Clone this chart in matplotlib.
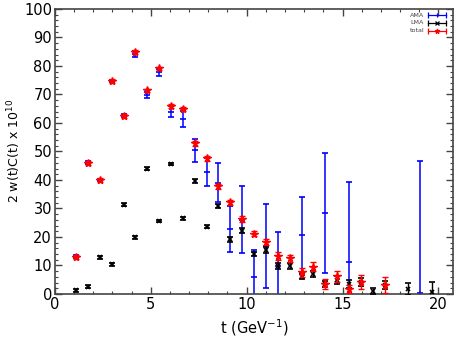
import numpy as np
import matplotlib
matplotlib.use("Agg")
import matplotlib.pyplot as plt
from matplotlib.ticker import MultipleLocator

nan = np.nan
t = [1.11, 1.73, 2.35, 2.97, 3.58, 4.20, 4.82, 5.44, 6.06, 6.68, 7.30, 7.91, 8.53,
     9.15, 9.77, 10.39, 11.01, 11.63, 12.24, 12.86, 13.48, 14.10, 14.72, 15.34,
     15.96, 16.57, 17.19, 17.81, 18.43, 19.05, 19.67]

ama = [13.0, 46.0, 40.0, 74.7, 62.5, 84.1, 69.8, 77.7, 64.0, 61.5, 50.4, 42.8, 39.1,
       22.8, 26.0, 6.0, 16.7, 9.8, nan, 20.8, nan, 28.3, nan, 11.3,
       nan, nan, nan, nan, nan, 0.2, nan]
ama_err = [0.5, 0.5, 0.5, 0.5, 0.5, 1.0, 1.1, 1.3, 2.0, 2.8, 4.0, 4.9, 7.0,
           8.0, 11.8, 9.4, 14.7, 11.8, nan, 13.2, nan, 21.0, nan, 28.1,
           nan, nan, nan, nan, nan, 46.6, nan]

lma = [1.3, 2.5, 12.9, 10.4, 31.3, 19.9, 44.0, 25.6, 45.6, 26.6, 39.6, 23.6, 31.0,
       19.2, 22.2, 14.0, 15.4, 9.8, 9.9, 6.1, 7.0, 3.5, 4.9, 3.5,
       4.2, 1.0, 3.2, nan, 1.8, nan, 0.8]
lma_err = [0.5, 0.5, 0.5, 0.5, 0.5, 0.5, 0.5, 0.5, 0.5, 0.5, 0.6, 0.6, 0.7,
           0.8, 0.8, 0.8, 0.9, 0.9, 1.0, 1.0, 1.0, 1.2, 1.5, 1.3,
           1.5, 1.0, 1.5, nan, 2.2, nan, 3.5]

total = [13.0, 46.0, 40.0, 74.7, 62.5, 84.9, 71.4, 79.1, 66.1, 64.9, 52.8, 47.6, 37.8,
         32.2, 26.3, 21.2, 18.3, 13.3, 12.5, 7.6, 9.6, 3.6, 6.2, 1.8,
         4.3, nan, 3.3, nan, nan, nan, nan]
total_err = [0.6, 0.6, 0.6, 0.6, 0.6, 0.6, 0.6, 0.6, 0.7, 0.7, 0.8, 0.8, 0.9,
             0.9, 1.0, 1.0, 1.1, 1.5, 1.2, 1.5, 1.5, 1.8, 2.0, 1.5,
             2.5, nan, 2.8, nan, nan, nan, nan]

labels = ['AMA', 'LMA', 'total']
colors = ['#0000ff', 'black', '#ff0000']
leg_markers = ['|', 'x', '*']

fig = plt.figure(figsize=(4.57, 3.43), dpi=100)
ax = fig.add_axes([0.120, 0.143, 0.871, 0.831])

ax.errorbar(t, ama, yerr=ama_err, fmt='_', color=colors[0], ms=5, mew=1.2,
            elinewidth=1.1, capsize=2.5, capthick=1.0, zorder=2)
ax.errorbar(t, lma, yerr=lma_err, fmt='x', color=colors[1], ms=3.5, mew=1.2,
            elinewidth=1.0, capsize=2.5, capthick=1.0, zorder=3)
ax.errorbar(t, total, yerr=total_err, fmt='*', color=colors[2], ms=5.5, mew=1.0,
            elinewidth=1.0, capsize=2.5, capthick=1.0, zorder=4)

# manual legend with horizontal error-bar glyphs
x0, x1, xc, xt = 0.937, 0.982, 0.960, 0.928
for i, (lab, c, m) in enumerate(zip(labels, colors, leg_markers)):
    yy = 0.978 - i * 0.027
    ax.plot([x0, x1], [yy, yy], color=c, lw=0.9, transform=ax.transAxes,
            clip_on=False, zorder=5)
    ax.plot([x0, x1], [yy, yy], ls='none', marker='|', ms=4, mew=0.9, color=c,
            transform=ax.transAxes, clip_on=False, zorder=5)
    ax.plot([xc], [yy], ls='none', marker=m, ms=3.5, mew=0.9, color=c,
            transform=ax.transAxes, clip_on=False, zorder=5)
    ax.text(xt, yy, lab, fontsize=4.6, ha='right', va='center',
            transform=ax.transAxes, color='#444444')

ax.set_xlim(0, 20.75)
ax.set_ylim(0, 100)
ax.xaxis.set_major_locator(MultipleLocator(5))
ax.xaxis.set_minor_locator(MultipleLocator(1))
ax.yaxis.set_major_locator(MultipleLocator(10))
ax.yaxis.set_minor_locator(MultipleLocator(2))
ax.tick_params(which='both', direction='in', top=True, right=True, labelsize=10.5,
               color='#444444', pad=2)
ax.tick_params(which='major', length=5, width=1.0)
ax.tick_params(which='minor', length=2.5, width=0.8)
for s in ax.spines.values():
    s.set_linewidth(1.2)
    s.set_color('#444444')

ax.set_xlabel('t (GeV$^{-1}$)', fontsize=10.5)
ax.set_ylabel('2 w(t)C(t) x 10$^{10}$', fontsize=9, labelpad=1)

fig.savefig('out.png', dpi=100)
